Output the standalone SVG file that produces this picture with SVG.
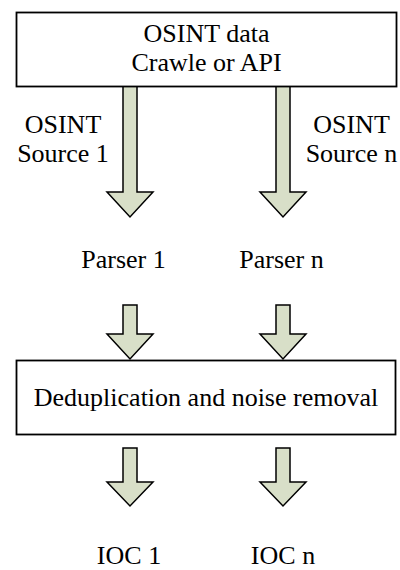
<svg xmlns="http://www.w3.org/2000/svg" width="400" height="570" viewBox="0 0 400 570">
<style>
.box{fill:#fff;stroke:#000;stroke-width:1.8}
.arr{fill:#d8dfc8;stroke:#000;stroke-width:1.5;stroke-linejoin:miter}
.t{font-family:'Liberation Serif','Times New Roman',Times,serif;font-size:26px;fill:#000;text-anchor:middle}
</style>
<rect width="400" height="570" fill="#fff"/>
<g id="connectors">
<path class="arr" d="M123,87 V192 H107 L130,217 L153,192 H137 V87"/>
<path class="arr" d="M276,87 V192 H260 L283,217 L306,192 H290 V87"/>
<path class="arr" d="M123,305 V334 H107 L130,359 L153,334 H137 V305 Z"/>
<path class="arr" d="M276,305 V334 H260 L283,359 L306,334 H290 V305 Z"/>
<path class="arr" d="M123,448 V482 H107 L130,506 L153,482 H137 V448 Z"/>
<path class="arr" d="M276,448 V482 H260 L283,506 L306,482 H290 V448 Z"/>
</g>
<g id="osint-data">
<rect class="box" x="16.5" y="12.5" width="380" height="74"/>
<text class="t" font-family="Liberation Serif" x="206.5" y="42">OSINT data</text>
<text class="t" font-family="Liberation Serif" x="206.5" y="71">Crawle or API</text>
</g>
<g id="source-1">
<text class="t" font-family="Liberation Serif" x="63" y="133">OSINT</text>
<text class="t" font-family="Liberation Serif" x="63" y="162">Source 1</text>
</g>
<g id="source-n">
<text class="t" font-family="Liberation Serif" x="351.5" y="133">OSINT</text>
<text class="t" font-family="Liberation Serif" x="351.5" y="162">Source n</text>
</g>
<g id="parser-1"><text class="t" font-family="Liberation Serif" x="123.5" y="268">Parser 1</text></g>
<g id="parser-n"><text class="t" font-family="Liberation Serif" x="281.5" y="268">Parser n</text></g>
<g id="dedup">
<rect class="box" x="16.5" y="360.5" width="379" height="74"/>
<text class="t" font-family="Liberation Serif" x="206" y="406">Deduplication and noise removal</text>
</g>
<g id="ioc-1"><text class="t" font-family="Liberation Serif" x="129" y="564">IOC 1</text></g>
<g id="ioc-n"><text class="t" font-family="Liberation Serif" x="283" y="564">IOC n</text></g>
</svg>
